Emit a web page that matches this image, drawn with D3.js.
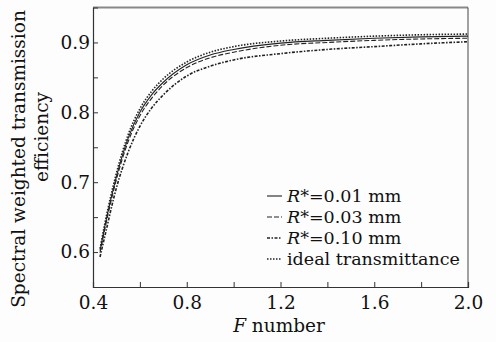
<!DOCTYPE html>
<html>
<head>
<meta charset="utf-8">
<script src="https://cdn.jsdelivr.net/npm/d3@7"></script>
<style>
  html, body { margin: 0; padding: 0; background: #fdfdfd; }
  svg { display: block; }
  text { font-family: "DejaVu Serif", "Liberation Serif", serif; fill: #111; }
</style>
</head>
<body>
<div id="chart"></div>
<script>
// F number samples
const fNumbers = [0.43, 0.45, 0.5, 0.55, 0.6, 0.65, 0.7, 0.8, 0.9, 1.0, 1.2, 1.4, 1.6, 1.8, 2.0];

// efficiency
const r001 = [0.602, 0.636, 0.708, 0.763, 0.800, 0.825, 0.843, 0.868, 0.882, 0.890, 0.899, 0.903, 0.906, 0.908, 0.909];
const r003 = [0.599, 0.632, 0.704, 0.758, 0.795, 0.820, 0.839, 0.864, 0.878, 0.886, 0.896, 0.900, 0.903, 0.905, 0.906];
const r010 = [0.593, 0.622, 0.692, 0.743, 0.780, 0.806, 0.825, 0.852, 0.866, 0.875, 0.884, 0.890, 0.894, 0.898, 0.901];
const ideal = [0.605, 0.640, 0.713, 0.768, 0.805, 0.830, 0.848, 0.872, 0.886, 0.894, 0.902, 0.906, 0.909, 0.911, 0.912];

const seriesNames = ["=0.01 mm", "=0.03 mm", "=0.10 mm", "ideal transmittance"];
const xTicks = [0.4, 0.6, 0.8, 1.0, 1.2, 1.4, 1.6, 1.8, 2.0];
const xLabels = [0.4, 0.8, 1.2, 1.6, 2.0];
const yTicks = [0.55, 0.6, 0.65, 0.7, 0.75, 0.8, 0.85, 0.9, 0.95];
const yLabels = [0.6, 0.7, 0.8, 0.9];

const width = 496, height = 342;
const margin = { top: 7.5, right: 28, bottom: 55, left: 93 };

const svg = d3.select("#chart").append("svg")
  .attr("width", width)
  .attr("height", height);

const x = d3.scaleLinear().domain([0.4, 2.0]).range([margin.left, width - margin.right]);
const y = d3.scaleLinear().domain([0.55, 0.95]).range([height - margin.bottom, margin.top]);

// frame
const plot = svg.append("g");
plot.append("line")
  .attr("x1", x(0.4)).attr("x2", x(2.0))
  .attr("y1", y(0.95)).attr("y2", y(0.95))
  .attr("stroke", "#888").attr("stroke-width", 2);
plot.append("line")
  .attr("x1", x(2.0)).attr("x2", x(2.0))
  .attr("y1", y(0.95)).attr("y2", y(0.55))
  .attr("stroke", "#444").attr("stroke-width", 1);

// bottom axis, ticks pointing in
const xAxis = svg.append("g")
  .attr("transform", `translate(0, ${y(0.55)})`)
  .call(d3.axisBottom(x).tickValues(xTicks).tickSize(-5)
    .tickFormat(d => xLabels.includes(d) ? d3.format(".1f")(d) : ""));
xAxis.select(".domain").attr("stroke", "#333").attr("stroke-width", 1.2);
xAxis.selectAll(".tick line").attr("stroke", "#333");
xAxis.selectAll(".tick text")
  .attr("y", 9).attr("dy", "0.71em")
  .style("font-size", "18.5px")
  .style("font-family", "DejaVu Serif");

// left axis
const yAxis = svg.append("g")
  .attr("transform", `translate(${x(0.4)}, 0)`)
  .call(d3.axisLeft(y).tickValues(yTicks).tickSize(-5)
    .tickFormat(d => yLabels.some(v => Math.abs(v - d) < 1e-9) ? d3.format(".1f")(d) : ""));
yAxis.select(".domain").attr("stroke", "#333").attr("stroke-width", 1.2);
yAxis.selectAll(".tick line").attr("stroke", "#333");
yAxis.selectAll(".tick text")
  .attr("x", -3)
  .style("font-size", "18.5px")
  .style("font-family", "DejaVu Serif");
svg.selectAll(".tick").filter(d => d === 0.55 || d === 0.95).select("line").remove();

// curves
const styles = [
  { dash: null, w: 1.1 },
  { dash: "5,2", w: 1.1 },
  { dash: "3,1.5,1.5,1.5", w: 1.6 },
  { dash: "1.5,1.5", w: 1.6 }
];
const allSeries = [r001, r003, r010, ideal];

const line = d3.line()
  .x(d => x(d[0]))
  .y(d => y(d[1]))
  .curve(d3.curveMonotoneX);

const curves = svg.append("g").attr("class", "curves");
allSeries.forEach((vals, i) => {
  curves.append("path")
    .datum(fNumbers.map((f, j) => [f, vals[j]]))
    .attr("d", line)
    .attr("fill", "none")
    .attr("stroke", "#222")
    .attr("stroke-width", styles[i].w)
    .attr("stroke-dasharray", styles[i].dash);
});

// legend
const legend = svg.append("g").attr("class", "legend");
const rowY = [196, 217, 238, 259];
seriesNames.forEach((name, i) => {
  legend.append("line")
    .attr("x1", 267).attr("x2", 282)
    .attr("y1", rowY[i]).attr("y2", rowY[i])
    .attr("stroke", "#222")
    .attr("stroke-width", styles[i].w)
    .attr("stroke-dasharray", styles[i].dash);
  const t = legend.append("text")
    .attr("x", 287).attr("y", rowY[i])
    .attr("dy", "0.36em")
    .style("font-size", "17.5px");
  if (i < 3) {
    t.append("tspan").style("font-style", "italic").text("R");
    t.append("tspan").text("*" + name);
  } else {
    t.text(name);
  }
});

// axis titles
const xt = svg.append("text")
  .attr("x", 279).attr("y", 332)
  .attr("text-anchor", "middle")
  .style("font-size", "18.5px");
xt.append("tspan").style("font-style", "italic").text("F");
xt.append("tspan").text(" number");

svg.append("text")
  .attr("transform", "translate(25, 159) rotate(-90)")
  .attr("text-anchor", "middle")
  .style("font-size", "18.5px")
  .text("Spectral weighted transmission");
svg.append("text")
  .attr("transform", "translate(48, 137) rotate(-90)")
  .attr("text-anchor", "middle")
  .style("font-size", "18.5px")
  .text("efficiency");
</script>
</body>
</html>
